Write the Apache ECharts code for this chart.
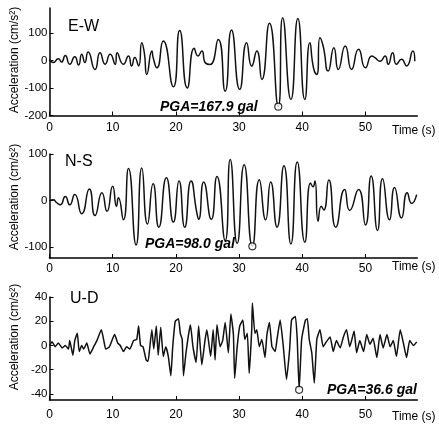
<!DOCTYPE html>
<html>
<head>
<meta charset="utf-8">
<script src="https://cdn.jsdelivr.net/npm/echarts@6/dist/echarts.min.js"></script>
<style>
html,body{margin:0;padding:0;background:#fff;}
#chart{width:439px;height:425px;}
</style>
</head>
<body>
<div id="chart"></div>
<script>
// ---- data (time s, acceleration cm/s^2) ----
const ewData = [[0,4],[0.6,-8],[1.4,6],[1.9,-6],[2.5,18],[3.2,-14],[4,13],[4.6,-17],[5.1,22],[5.6,-8],[6.1,30],[7.2,-33],[8,28],[8.8,-14],[9.6,22],[10.4,-14],[10.7,28],[11.7,-14],[12.5,16],[13,-20],[13.5,10],[14.1,-20],[14.6,64],[15,28],[15.4,-51],[16.2,34],[16.4,10],[17,-27],[18,70],[19.6,-96],[20.6,108],[21.8,-100],[22.9,44],[23.5,16],[24.1,34],[24.7,-10],[25.4,-15],[26.7,76],[27.8,-112],[28.8,110],[30.1,-105],[31.2,64],[32,-21],[32.8,34],[33.6,-69],[34.8,135],[36.2,-167.9],[36.9,155],[38.2,-142],[39.3,152],[40.4,-142],[41.2,64],[41.8,-30],[42.3,-51],[42.8,82],[43.3,52],[44.1,-39],[45,46],[45.7,-33],[46.8,52],[47.8,-33],[48.9,40],[50,-27],[51,16],[51.5,10],[52.3,-3],[53.1,16],[53.6,-14],[54.3,28],[54.9,-14],[55.7,4],[56.5,-20],[57.5,34],[57.8,-3]];
const nsData = [[0,0],[0.6,2],[1.1,-4],[1.7,-9],[2.5,9],[3.2,-9],[4,13],[5.1,-28],[6.3,25],[7.2,-32],[8.3,17],[9.1,-23],[10,31],[10.6,-12],[10.9,6],[11.7,-41],[12.5,69],[13.7,-95],[14.6,70],[15.5,-50],[16.4,36],[17.3,-57],[18.5,49],[19.6,-46],[20.5,42],[21.4,-57],[22.4,42],[23.3,-25],[23.6,-40],[24.4,40],[25.6,-40],[26.5,52],[27.8,-86],[28.6,88],[29.7,-92],[30.8,77],[32.1,-98],[33.2,45],[34.2,-41],[35,40],[36,-57],[37.1,75],[38.2,-93],[39.2,83],[40.4,-89],[41.3,38],[41.7,30],[42,42],[42.5,-44],[43,-12],[43.4,-20],[44.2,44],[45.3,-57],[46.7,24],[47.5,-21],[48.9,24],[50,-52],[50.9,53],[51.9,-64],[52.7,47],[53.8,-41],[54.6,28],[55.7,-37],[56.6,17],[57.3,-6],[58.1,13]];
const udData = [[0,0],[0.4,3],[0.9,-1],[1.4,2],[2,-2],[2.5,0],[3,-3],[3.2,4],[3.7,-8],[4,4],[4.4,10],[4.7,-5],[5.1,0],[5.4,-3],[5.9,2],[6.4,-7],[7,-1],[7.5,4],[8.2,13],[8.6,4],[8.9,-3],[9.5,-1],[10.3,9],[10.8,2],[11.2,0],[11.7,-5],[12.2,-1],[12.7,-3],[13.3,4],[13.8,5],[14.1,16],[14.4,0],[14.8,-1],[15.3,-12],[15.6,-13],[15.9,0],[16.2,13],[16.5,-3],[16.9,16],[17.2,-8],[17.6,15],[18,-9],[18.4,-1],[18.8,-9],[19.2,-25],[19.5,-1],[19.9,20],[20.4,22],[20.7,10],[21,5],[21.2,-25],[21.6,-6],[22,9],[22.3,17],[22.7,-1],[23.2,-14],[23.6,16],[24.1,-16],[24.6,4],[24.9,13],[25.5,-9],[25.9,13],[26.2,-12],[26.5,17],[27,-1],[27.4,4],[27.8,19],[28.3,-6],[28.7,26],[29.1,9],[29.3,-27],[29.7,-1],[30.1,16],[30.6,21],[30.9,5],[31.3,10],[31.6,-23],[32,13],[32.1,35],[32.5,10],[32.8,13],[33.2,-1],[33.6,5],[34.1,-10],[34.4,9],[34.8,19],[35.2,-1],[35.7,-5],[36,5],[36.5,21],[37,-1],[37.5,-28],[38,-3],[38.3,21],[38.9,24],[39.2,5],[39.5,-36.6],[39.9,5],[40.5,21],[40.8,22],[41.1,5],[41.5,-6],[41.9,-31],[42.3,5],[42.8,13],[43.3,-1],[43.8,3],[44.4,7],[44.9,-5],[45.4,4],[46,-2],[46.5,7],[47,13],[47.5,-1],[47.8,4],[48.2,12],[48.6,-6],[49.1,4],[49.7,-5],[50.2,9],[50.7,1],[51.2,6],[51.8,-10],[52.3,9],[52.8,-2],[53.4,9],[53.9,-1],[54.4,4],[54.9,-9],[55.5,13],[56,2],[56.5,-10],[57,4],[57.6,0],[58.1,3]];
const pgaPoints = [[36.2,-167.9],[32.1,-98.0],[39.5,-36.6]];
const pgaLabels = ['PGA=167.9 gal','PGA=98.0 gal','PGA=36.6 gal'];
const panelNames = ['E-W','N-S','U-D'];
const xTicks = [0,10,20,30,40,50];
const yTicksEW = [-200,-100,0,100];
const yTicksNS = [-100,0,100];
const yTicksUD = [-40,-20,0,20,40];

const FONT = 'Liberation Sans, Arial, sans-serif';
const chart = echarts.init(document.getElementById('chart'));

const grids = [
  {left:49.5, top:8, width:367.8, height:107.5},
  {left:49.5, top:154, width:367.8, height:104},
  {left:49.5, top:297, width:367.8, height:103}
];
const yRanges = [[-200,190,yTicksEW],[-123,100,yTicksNS],[-45,40,yTicksUD]];
const labelMargins = [6,5,9];

const xAxes = grids.map((g,i)=>({
  type:'value', gridIndex:i, min:0, max:58.2,
  axisLine:{onZero:false, lineStyle:{color:'#000', width:1.6}},
  axisTick:{inside:true, length:4, lineStyle:{color:'#000', width:1}, customValues:xTicks},
  axisLabel:{customValues:xTicks, color:'#000', fontSize:12, fontFamily:FONT, margin:labelMargins[i]},
  splitLine:{show:false}
}));
const yAxes = yRanges.map((r,i)=>({
  type:'value', gridIndex:i, min:r[0], max:r[1],
  axisLine:{show:true, lineStyle:{color:'#000', width:1.5}},
  axisTick:{inside:true, length:4, lineStyle:{color:'#000', width:1}, customValues:r[2]},
  axisLabel:{customValues:r[2], color:'#000', fontSize:11.5, fontFamily:FONT, margin:2},
  splitLine:{show:false}
}));

const lineSeries = [ewData, nsData, udData].map((d,i)=>({
  type:'line', xAxisIndex:i, yAxisIndex:i, data:d, showSymbol:false,
  smooth: i===2 ? 0.15 : 0.6,
  lineStyle:{color:'#111', width:1.5}, animation:false, silent:true
}));
const pgaSeries = pgaPoints.map((p,i)=>({
  type:'scatter', xAxisIndex:i, yAxisIndex:i, data:[p],
  symbol:'circle', symbolSize:7,
  itemStyle:{color:'#fff', borderColor:'#000', borderWidth:1.2}, animation:false, silent:true, z:3
}));

const textStyleBase = {fill:'#000', fontFamily:FONT};
const graphics = [];
const namePos = [[68,19],[65,154],[70,291]];
panelNames.forEach((n,i)=>graphics.push({type:'text', left:namePos[i][0], top:namePos[i][1],
  style:Object.assign({text:n, fontSize:16}, textStyleBase)}));
const pgaPos = [[160,100],[145,237],[327,383]];
pgaLabels.forEach((t,i)=>graphics.push({type:'text', left:pgaPos[i][0], top:pgaPos[i][1],
  style:Object.assign({text:t, fontSize:14, fontWeight:'bold', fontStyle:'italic'}, textStyleBase)}));
const timePos = [125,261,411];
timePos.forEach(y=>graphics.push({type:'text', left:392, top:y,
  style:Object.assign({text:'Time (s)', fontSize:12}, textStyleBase)}));
const yTitleC = [60,197,337];
yTitleC.forEach(c=>graphics.push({type:'text', x:15, y:c, rotation:Math.PI/2,
  style:Object.assign({text:'Acceleration (cm/s²)', fontSize:12, align:'center', verticalAlign:'middle'}, textStyleBase)}));

chart.setOption({
  backgroundColor:'#fff',
  animation:false,
  grid:grids,
  xAxis:xAxes,
  yAxis:yAxes,
  series:lineSeries.concat(pgaSeries),
  graphic:graphics
});
</script>
</body>
</html>
